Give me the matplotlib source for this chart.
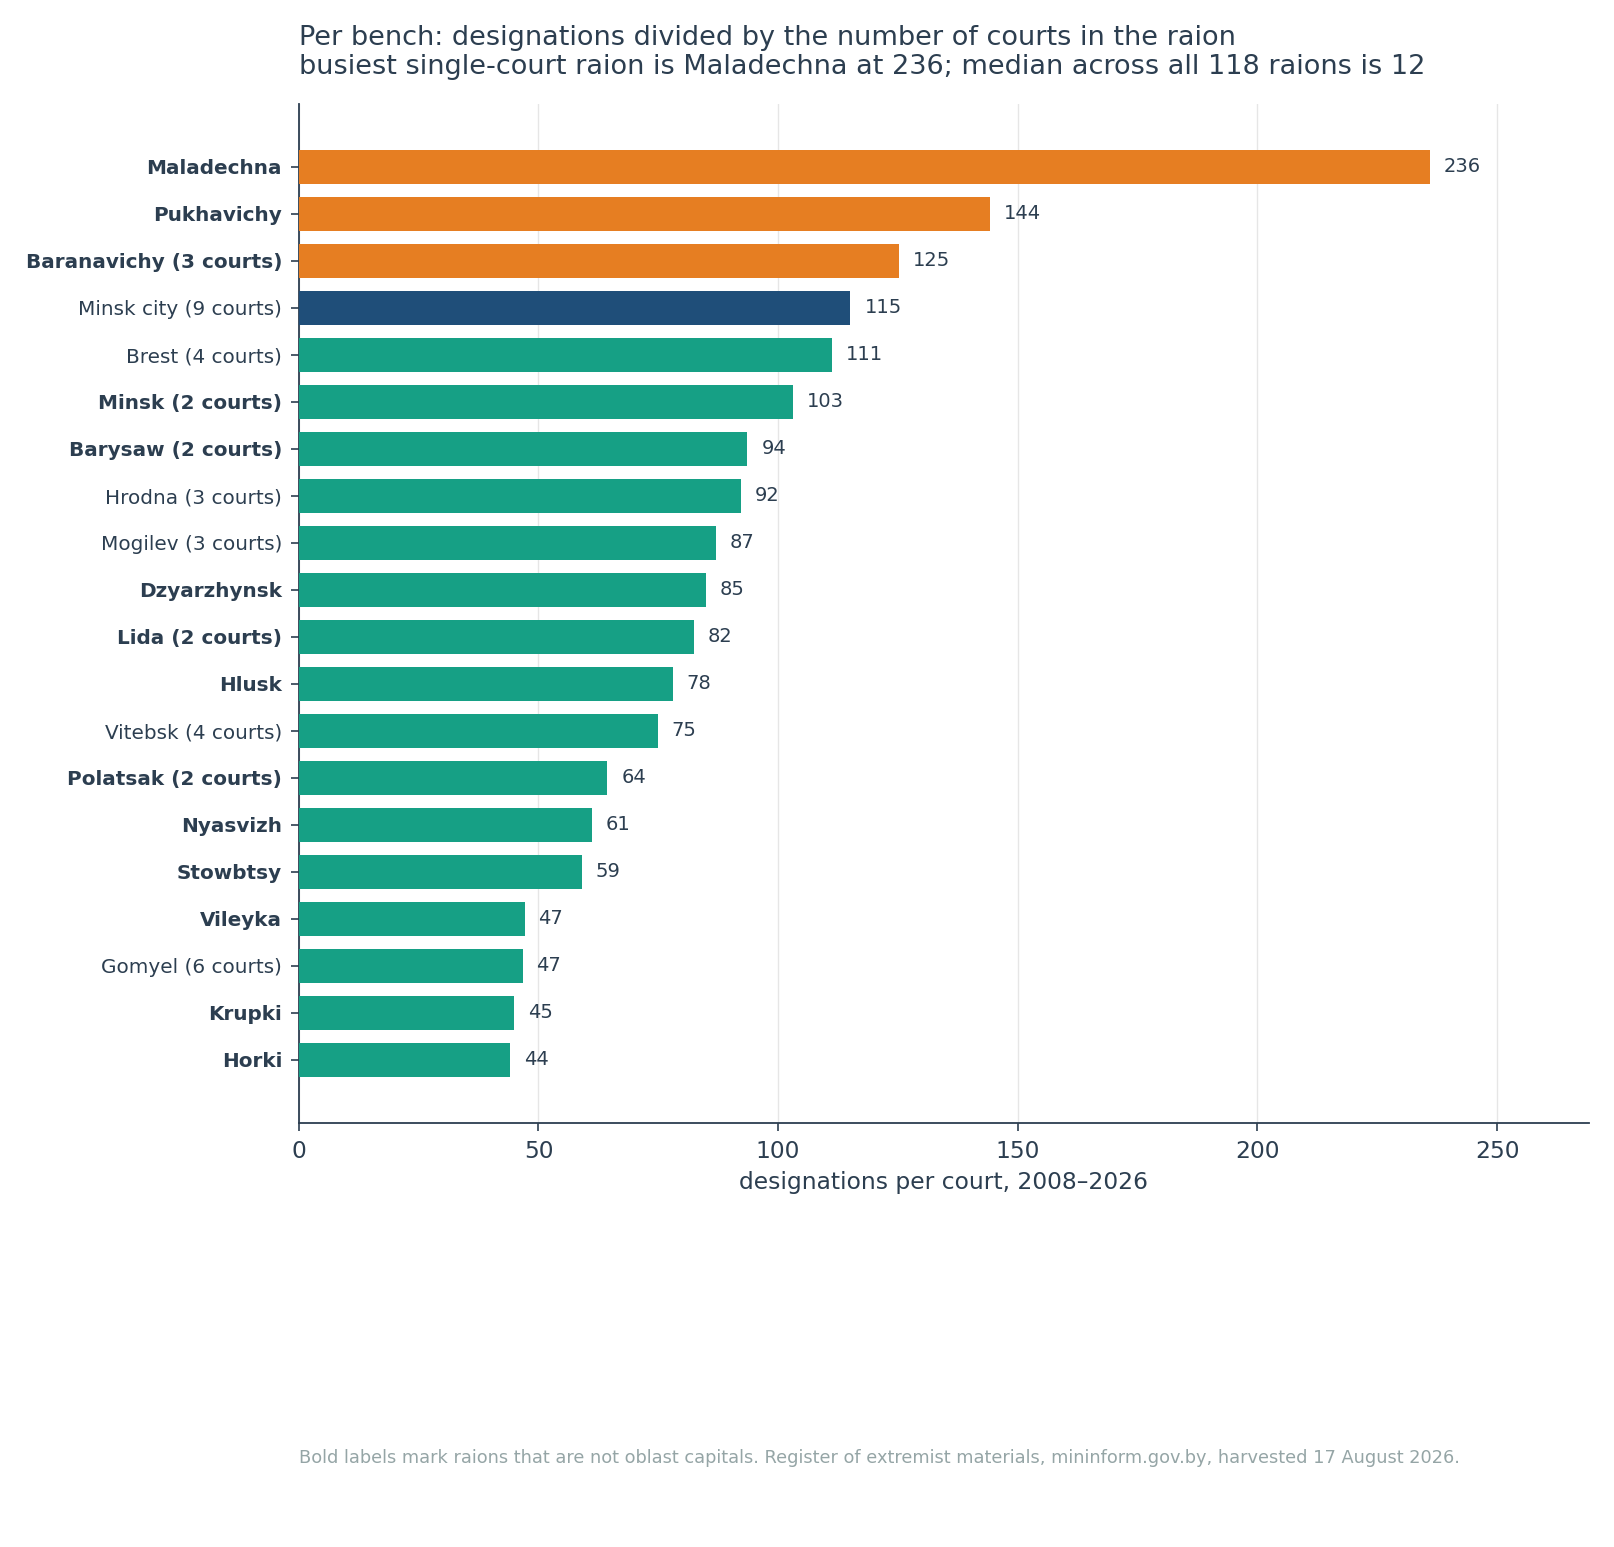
import numpy as np
import matplotlib.pyplot as plt

# datos
raiones = ["Maladechna", "Pukhavichy", "Baranavichy (3 courts)", "Minsk city (9 courts)",
           "Brest (4 courts)", "Minsk (2 courts)", "Barysaw (2 courts)", "Hrodna (3 courts)",
           "Mogilev (3 courts)", "Dzyarzhynsk", "Lida (2 courts)", "Hlusk",
           "Vitebsk (4 courts)", "Polatsak (2 courts)", "Nyasvizh", "Stowbtsy",
           "Vileyka", "Gomyel (6 courts)", "Krupki", "Horki"]
por_juzgado = [236.0, 144.1, 125.2, 115.1, 111.2, 103.1, 93.6, 92.2, 87.0, 85.0,
               82.4, 78.0, 74.9, 64.4, 61.1, 59.0, 47.1, 46.7, 45.0, 44.0]
no_capital = [True, True, True, False, False, True, True, False, False, True,
              True, True, False, True, True, True, True, False, True, True]
grupo = ["top", "top", "top", "city"] + ["rest"] * 16

colores = {"top": "#e67e22", "city": "#1f4e79", "rest": "#16a085"}
texto = "#2c3e50"

fig = plt.figure(figsize=(16.15, 15.47), dpi=100)
ax = fig.add_axes([0.185, 0.274, 0.799, 0.659])

y = np.arange(len(raiones))
ax.barh(y, por_juzgado, height=0.72, color=[colores[g] for g in grupo], zorder=3)
ax.invert_yaxis()

for i, v in enumerate(por_juzgado):
    ax.annotate(f"{v:.0f}", (v, i), xytext=(10, 0), textcoords="offset points",
                va="center", ha="left", fontsize=14, color=texto)

ax.set_yticks(y)
ax.set_yticklabels(raiones, fontsize=14.4, color=texto)
for lab, b in zip(ax.get_yticklabels(), no_capital):
    if b:
        lab.set_fontweight("bold")

ax.set_xlim(0, 269.2)
ax.set_xticks([0, 50, 100, 150, 200, 250])
ax.tick_params(axis="x", labelsize=16.8, colors=texto, length=6, width=1.2, pad=6)
ax.tick_params(axis="y", colors=texto, length=6, width=1.2, pad=6)
ax.set_xlabel("designations per court, 2008\u20132026", fontsize=16.8, color=texto, labelpad=6)

ax.grid(axis="x", color="#e6e6e6", linewidth=1, zorder=0)
ax.grid(axis="y", visible=False)
for s in ["top", "right"]:
    ax.spines[s].set_visible(False)
for s in ["left", "bottom"]:
    ax.spines[s].set_color(texto)
    ax.spines[s].set_linewidth(1.3)

fig.text(0.185, 1 - 25 / 1547,
         "Per bench: designations divided by the number of courts in the raion\n"
         "busiest single-court raion is Maladechna at 236; median across all 118 raions is 12",
         ha="left", va="top", fontsize=19.5, color=texto, linespacing=1.15)

fig.text(0.185, 1 - 1458 / 1547,
         "Bold labels mark raions that are not oblast capitals. Register of extremist materials, "
         "mininform.gov.by, harvested 17 August 2026.",
         ha="left", va="center", fontsize=12.8, color="#95a5a6")

plt.savefig("out.png", dpi=100)
